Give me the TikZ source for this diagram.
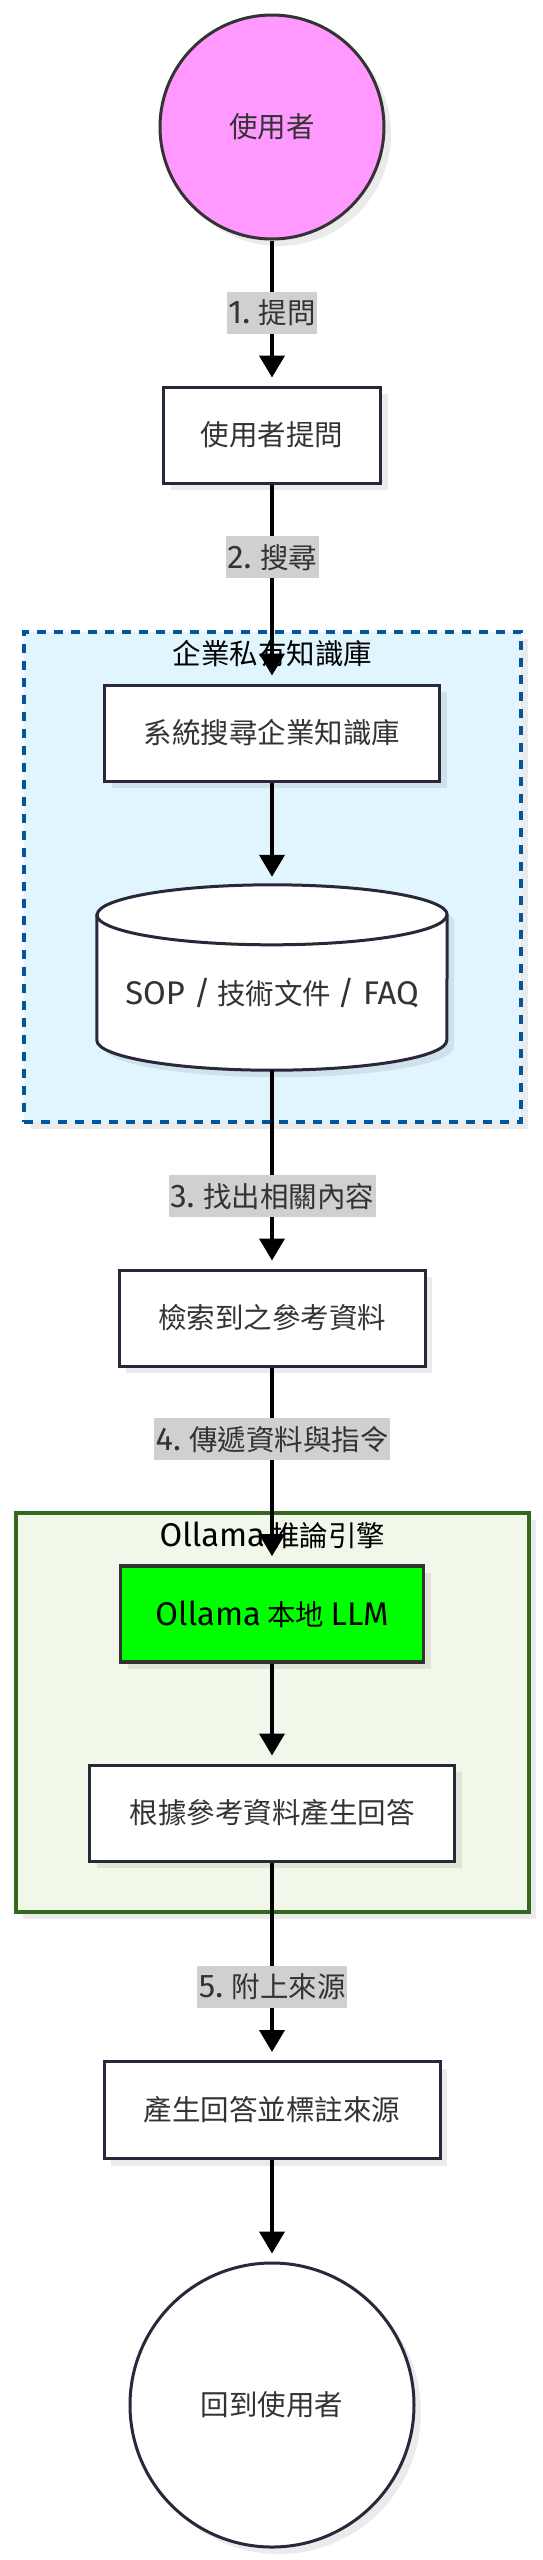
\documentclass[tikz,border=0pt]{standalone}
\usepackage{fontspec}
\setmainfont{Noto Sans CJK TC}
\newfontfamily\firafont[Scale=1.15]{Fira Sans}
\usepackage{tikz}
\usetikzlibrary{arrows.meta, positioning, calc, shadows}

\definecolor{ink}{HTML}{333333}
\definecolor{box-line}{HTML}{28283A}
\definecolor{user-pink}{HTML}{FF99FF}
\definecolor{kb-fill}{HTML}{E1F5FE}
\definecolor{kb-line}{HTML}{01579B}
\definecolor{llm-fill}{HTML}{F1F8E9}
\definecolor{llm-line}{HTML}{33691E}
\definecolor{llm-green}{HTML}{00FF00}
\definecolor{tag-gray}{HTML}{D0D0D0}

\tikzset{
    soft shadow/.style={drop shadow={shadow xshift=7pt, shadow yshift=-7pt, fill=black, opacity=0.08}},
    box/.style={draw=box-line, line width=3pt, fill=white, text=ink, minimum height=96pt, soft shadow},
    person/.style={circle, draw=box-line, line width=3pt, fill=white, text=ink, inner sep=0pt, soft shadow},
    zone/.style={line width=3.6pt, inner sep=0pt, soft shadow},
    zonetitle/.style={text=black, inner sep=0pt},
    flow/.style={line width=4pt, -{Triangle[width=25pt,length=22pt]}, shorten >=8pt},
    tag/.style={fill=tag-gray, text=ink, inner xsep=1.5pt, inner ysep=0pt, minimum height=42pt}
}

\begin{document}
\begin{tikzpicture}[x=1pt, y=1pt, font=\fontsize{28.5pt}{34pt}\selectfont]
    % Fundo
    \useasboundingbox (0,0) rectangle (542,-2560);
    \fill[white] (0,0) rectangle (542,-2560);

    % Zonas
    \node[zone, draw=kb-line, fill=kb-fill, dash pattern=on 9pt off 8pt,
          minimum width=497pt, minimum height=490pt] (kbzone) at (272.5,-877) {};
    \node[zone, draw=llm-line, fill=llm-fill,
          minimum width=513pt, minimum height=399pt] (llmzone) at (272.5,-1712.5) {};
    \node[zonetitle] (kbtitle) at ([yshift=-23pt]kbzone.north) {企業私有知識庫};
    \node[zonetitle] (llmtitle) at ([yshift=-24pt]llmzone.north) {{\firafont Ollama} 推論引擎};

    % Nos
    \node[person, fill=user-pink, draw=ink, minimum size=224pt] (user) at (272,-127) {使用者};
    \node[box, minimum width=217pt] (ask) at (272,-435) {使用者提問};
    \node[box, minimum width=335pt] (search) at (272,-733) {系統搜尋企業知識庫};

    % Cilindro
    \node[minimum width=350pt, minimum height=185pt, inner sep=0pt] (kb) at (272,-977.5) {};
    \draw[draw=box-line, line width=3pt, fill=white, soft shadow]
        ([yshift=-30pt]kb.north west) -- ([yshift=30pt]kb.south west)
        arc[start angle=180, end angle=360, x radius=175pt, y radius=30pt]
        -- ([yshift=-30pt]kb.north east)
        arc[start angle=0, end angle=180, x radius=175pt, y radius=30pt] -- cycle;
    \draw[draw=box-line, line width=3pt] ([yshift=-30pt]kb.north west)
        arc[start angle=180, end angle=360, x radius=175pt, y radius=30pt];
    \node[text=ink] (kbtext) at ([yshift=-15.5pt]kb.center) {{\firafont SOP /} 技術文件 {\firafont / FAQ}};

    \node[box, minimum width=306pt] (refs) at (272,-1318) {檢索到之參考資料};
    \node[box, fill=llm-green, draw=ink, line width=3.6pt, text=black, minimum width=303pt] (llm) at (272,-1614) {{\firafont Ollama} 本地 {\firafont LLM}};
    \node[box, minimum width=365pt] (answer) at (272,-1813) {根據參考資料產生回答};
    \node[box, minimum width=336pt, minimum height=97pt] (cite) at (272,-2110) {產生回答並標註來源};
    \node[person, minimum size=284pt] (back) at (272,-2405) {回到使用者};

    % Conexoes
    \draw[flow] (user) -- (ask);
    \draw[flow] (ask) -- (search);
    \draw[flow] (search) -- (kb);
    \draw[flow] (kb) -- (refs);
    \draw[flow] (refs) -- (llm);
    \draw[flow] (llm) -- (answer);
    \draw[flow] (answer) -- (cite);
    \draw[flow] (cite) -- (back);

    % Rotulos
    \node[tag] (step1) at ($(user.south)!0.5!(ask.north)$) {{\firafont 1.} 提問};
    \node[tag] (step2) at ($(ask.south)!0.5!(kbzone.north)$) {{\firafont 2.} 搜尋};
    \node[tag] (step3) at ($(kbzone.south)!0.5!(refs.north)$) {{\firafont 3.} 找出相關內容};
    \node[tag] (step4) at ($(refs.south)!0.5!(llmzone.north)$) {{\firafont 4.} 傳遞資料與指令};
    \node[tag] (step5) at ($(llmzone.south)!0.5!(cite.north)$) {{\firafont 5.} 附上來源};
\end{tikzpicture}
\end{document}
